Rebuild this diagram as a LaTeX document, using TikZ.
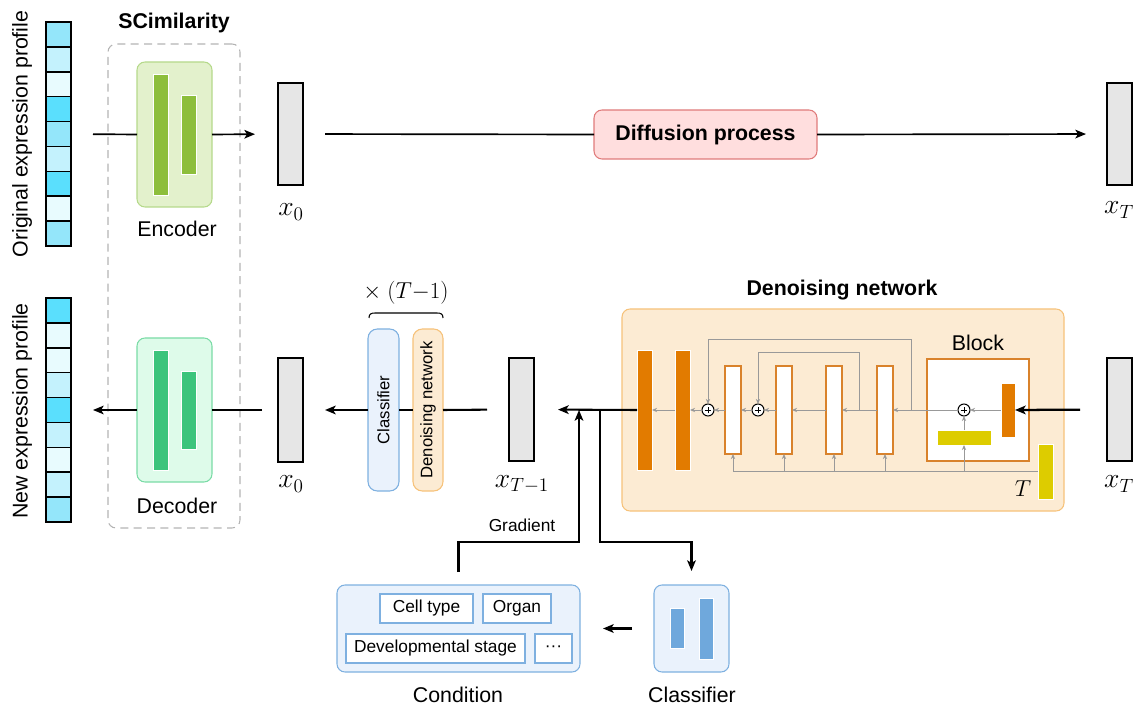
\documentclass[tikz,border=0pt]{standalone}
\usepackage{fontspec}
\setmainfont{Liberation Sans}
\usetikzlibrary{arrows.meta,fit,calc}
\definecolor{cA}{HTML}{94E6FA}
\definecolor{cB}{HTML}{C4F2FD}
\definecolor{cC}{HTML}{E8FBFE}
\definecolor{cD}{HTML}{5ADFFD}
\definecolor{encfill}{HTML}{E3F1CC}
\definecolor{encdraw}{HTML}{B5D98A}
\definecolor{encbar}{HTML}{8DBE3C}
\definecolor{decfill}{HTML}{DEFBEA}
\definecolor{decdraw}{HTML}{7ADBA6}
\definecolor{decbar}{HTML}{3CC47C}
\definecolor{latfill}{HTML}{E6E6E6}
\definecolor{difffill}{HTML}{FFDEDE}
\definecolor{diffdraw}{HTML}{E07B7B}
\definecolor{bluefill}{HTML}{EAF2FC}
\definecolor{bluedraw}{HTML}{7EB0E0}
\definecolor{bluebar}{HTML}{6FA8DC}
\definecolor{orfill}{HTML}{FCEBD3}
\definecolor{ordraw}{HTML}{F6C27A}
\definecolor{orbar}{HTML}{E27B00}
\definecolor{orline}{HTML}{D9822B}
\definecolor{yel}{HTML}{DDCC00}
\definecolor{grayline}{HTML}{999999}
\definecolor{dashc}{HTML}{B3B3B3}
\tikzset{
  every node/.style={inner sep=0pt, outer sep=0pt},
  cellbox/.style={draw=black, line width=1.2pt},
  latent/.style={draw=black, line width=1.4pt, fill=latfill},
  conn/.style={draw=black, line width=1.25pt},
  arr/.style={conn, -{Stealth[length=8pt,width=6.5pt,inset=2pt]}},
  conn2/.style={draw=black, line width=1.55pt},
  arr2/.style={conn2, -{Stealth[length=8pt,width=6.5pt,inset=2pt]}},
  gl/.style={draw=grayline, line width=0.75pt},
  garr/.style={gl, -{Stealth[length=3.8pt,width=3.2pt]}},
  lbl/.style={font=\fontsize{16}{19}\selectfont},
  blbl/.style={font=\fontsize{16}{19}\selectfont\bfseries},
  slbl/.style={font=\fontsize{13}{15}\selectfont},
  mlbl/.style={font=\fontsize{20}{22}\selectfont},
  whitebar/.style={draw=white, line width=0.6pt},
  wblock/.style={draw=orline, line width=0.85pt, fill=white},
  tag/.style={draw=bluedraw, line width=0.9pt, fill=white},
  plusc/.style={circle, draw=black, line width=0.75pt, fill=white, minimum size=9pt,
    path picture={
      \draw[line width=0.75pt] ([xshift=-2.6pt]path picture bounding box.center) -- ([xshift=2.6pt]path picture bounding box.center);
      \draw[line width=0.75pt] ([yshift=-2.6pt]path picture bounding box.center) -- ([yshift=2.6pt]path picture bounding box.center);
    }},
}
\begin{document}
\begin{tikzpicture}[x=0.75pt,y=-0.75pt]
\useasboundingbox (0,0) rectangle (1133,706);

% ---------- SCimilarity dashed frame ----------
\node[fit={(108,44)(240,528)}, draw=dashc, dash pattern=on 6pt off 4pt, rounded corners=6pt, line width=0.8pt] (sc) {};
\node[blbl] (sctitle) at (174,23) {SCimilarity};

% ---------- original profile ----------
\foreach \c [count=\i from 0] in {cA,cB,cC,cD,cA,cB,cD,cC,cA}
  \draw[cellbox, fill=\c] (46,{22+\i*24.89}) rectangle (71,{22+(\i+1)*24.89});
\node[fit={(46,22)(71,246)}] (orig) {};
\node[lbl, rotate=90] (origlbl) at (22,134) {Original expression profile};

% ---------- new profile ----------
\foreach \c [count=\i from 0] in {cD,cC,cC,cB,cD,cB,cC,cB,cA}
  \draw[cellbox, fill=\c] (46,{298+\i*24.89}) rectangle (71,{298+(\i+1)*24.89});
\node[fit={(46,298)(71,522)}] (newp) {};
\node[lbl, rotate=90] (newlbl) at (22,411) {New expression profile};

% ---------- encoder ----------
\node[fit={(137,62)(212,207)}, draw=encdraw, fill=encfill, rounded corners=6pt, line width=0.8pt] (enc) {};
\draw[whitebar, fill=encbar] (153,74) rectangle (168,195);
\draw[whitebar, fill=encbar] (181,95) rectangle (196,174);
\node[lbl] (enclbl) at (177,229) {Encoder};

% ---------- decoder ----------
\node[fit={(137,338)(212,482)}, draw=decdraw, fill=decfill, rounded corners=6pt, line width=0.8pt] (dec) {};
\draw[whitebar, fill=decbar] (153,350) rectangle (168,470);
\draw[whitebar, fill=decbar] (181,371) rectangle (196,449);
\node[lbl] (declbl) at (177,506) {Decoder};

% ---------- latents ----------
\node[fit={(278,83)(303,185)}, latent] (x0t) {};
\node[mlbl] at (291,212) {$x_{0}$};
\node[fit={(1107,83)(1132,185)}, latent] (xTt) {};
\node[mlbl] at (1119,210) {$x_{T}$};
\node[fit={(278,358)(303,462)}, latent] (x0b) {};
\node[mlbl] at (291,484) {$x_{0}$};
\node[fit={(509,358)(534,461)}, latent] (xm) {};
\node[mlbl] at (522,484) {$x_{T-1}$};
\node[fit={(1107,358)(1132,461)}, latent] (xTb) {};
\node[mlbl] at (1119,484) {$x_{T}$};

% ---------- diffusion process ----------
\node[fit={(594,110)(817,159)}, draw=diffdraw, fill=difffill, rounded corners=6pt, line width=0.8pt] (diff) {};
\node[blbl] at (diff.center) {Diffusion process};

% ---------- top connectors ----------
\draw[conn, shorten <=16.5pt] (orig.east) -- (enc.west);
\draw[arr, shorten >=17.25pt] (enc.east) -- (x0t.west);
\draw[conn, shorten <=16.5pt] (x0t.east) -- (diff.west);
\draw[arr, shorten >=15.75pt] (diff.east) -- (xTt.west);

% ---------- classifier / denoising (x (T-1)) ----------
\node[fit={(368,329)(399,491)}, draw=bluedraw, fill=bluefill, rounded corners=7pt, line width=0.8pt] (clb) {};
\node[font=\fontsize{12.5}{14}\selectfont, rotate=90] at (clb.center) {Classifier};
\node[fit={(413,329)(443,491)}, draw=ordraw, fill=orfill, rounded corners=7pt, line width=0.8pt] (dnb) {};
\node[font=\fontsize{12.5}{14}\selectfont, rotate=90] at (dnb.center) {Denoising network};
\draw[line width=0.8pt] (369,318) .. controls (369,314) and (371,313) .. (375,313) -- (437,313) .. controls (441,313) and (443,314) .. (443,318);
\node[lbl] (rep) at (406,293) {$\times\ (T{-}1)$};

% ---------- bottom-row connectors ----------
\draw[conn2, shorten <=16.5pt] (xm.west) -- (dnb.east);
\draw[conn2] (dnb.west) -- (clb.east);
\draw[arr2, shorten >=16.5pt] (clb.west) -- (x0b.east);
\draw[conn, shorten <=12pt] (x0b.west) -- (dec.east);
\draw[arr, shorten >=16.5pt] (dec.west) -- (newp.east);

% ---------- denoising network ----------
\node[fit={(622,309)(1064,511)}, draw=ordraw, fill=orfill, rounded corners=6pt, line width=0.8pt] (dn) {};
\node[blbl] (dntitle) at (842,290) {Denoising network};
\node[fit={(637,350)(652,470)}, whitebar, fill=orbar] (ob1) {};
\node[fit={(675,350)(690,470)}, whitebar, fill=orbar] (ob2) {};
\node[plusc] (p1) at (708,410) {};
\node[fit={(725,366)(741,454)}, wblock] (w1) {};
\node[plusc] (p2) at (758,410) {};
\node[fit={(776,366)(792,454)}, wblock] (w2) {};
\node[fit={(826,366)(842,454)}, wblock] (w3) {};
\node[fit={(877,366)(893,454)}, wblock] (w4) {};
\node[fit={(927,359)(1029,461)}, wblock] (blk) {};
\node[lbl] (blklbl) at (978,343) {Block};
\node[fit={(1001,383)(1015,437)}, whitebar, fill=orbar] (bb) {};
\node[fit={(937,430)(991,445)}, whitebar, fill=yel] (yb) {};
\node[plusc] (pb) at (964,410) {};
\node[fit={(1038,444)(1053,499)}, whitebar, fill=yel] (tb) {};
\node[lbl] (tlbl) at (1023,489) {$T$};

% gray flow
\draw[garr] (bb.west) -- (pb.east);
\draw[garr] (pb.west) -- (w4.east);
\draw[garr] (w4.west) -- (w3.east);
\draw[garr] (w3.west) -- (w2.east);
\draw[garr] (w2.west) -- (p2.east);
\draw[garr] (p2.west) -- (w1.east);
\draw[garr] (w1.west) -- (p1.east);
\draw[garr] (p1.west) -- (ob2.east);
\draw[garr] (ob2.west) -- (ob1.east);
\coordinate (s1) at (911,410);
\coordinate (s2) at (859,410);
\draw[garr] (s1) -- ++(0,-70) -| (p1.north);
\draw[garr] (s2) -- ++(0,-57) -| (p2.north);
\draw[gl] (tb.west) -- (w1.south |- tb.west);
\foreach \w in {w1,w2,w3,w4}
  \draw[garr] (\w.south |- tb.west) -- (\w.south);
\draw[garr] (yb.south |- tb.west) -- (yb.south);
\draw[garr] (yb.north) -- (pb.south);

% input arrow into block
\draw[arr2, line width=1.7pt, shorten <=20.25pt] (xTb.west) -- (bb.east);
% output to x_{T-1}
\draw[arr2, shorten >=18pt] (ob1.west) -- (xm.east);

% ---------- condition & classifier ----------
\node[fit={(337,585)(580,672)}, draw=bluedraw, fill=bluefill, rounded corners=6pt, line width=0.8pt] (cond) {};
\node[fit={(380,594)(473,623)}, tag] (ct) {};
\node[slbl] at (ct.center) {Cell type};
\node[fit={(483,594)(551,623)}, tag] (org) {};
\node[slbl] at (org.center) {Organ};
\node[fit={(346,634)(525,663)}, tag] (dev) {};
\node[slbl] at (dev.center) {Developmental stage};
\node[fit={(535,634)(572,663)}, tag] (dots) {};
\node[slbl] at (dots.center) {\textperiodcentered\textperiodcentered\textperiodcentered};
\node[lbl] (condlbl) at (458,695) {Condition};

\node[fit={(654,585)(729,672)}, draw=bluedraw, fill=bluefill, rounded corners=6pt, line width=0.8pt] (clsb) {};
\draw[whitebar, fill=bluebar] (670,608) rectangle (684,648);
\draw[whitebar, fill=bluebar] (699,598) rectangle (713,659);
\node[lbl] (clslbl) at (692,695) {Classifier};

\coordinate (jg) at (579,410);
\coordinate (jc) at (600,410);
\draw[arr2, shorten <=9.75pt] (cond.north) -- ++(0,-43) -| (jg);
\node[slbl] (gradlbl) at (522,525) {Gradient};
\draw[arr2, shorten >=10.5pt] (jc) -- (600,542) -| (clsb.north);
\draw[arr2, shorten <=16.5pt, shorten >=17.25pt] (clsb.west) -- (cond.east);
\end{tikzpicture}
\end{document}
